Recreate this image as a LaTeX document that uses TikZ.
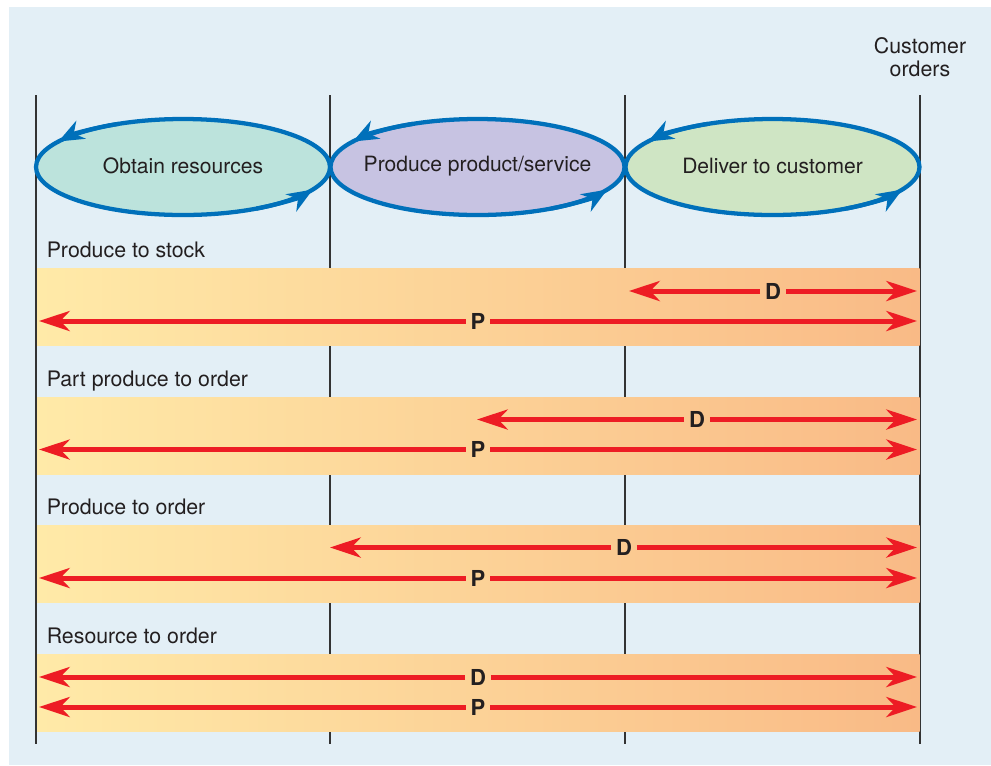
\documentclass[tikz,border=0pt]{standalone}
\usepackage{fontspec}
\setmainfont{TeX Gyre Heros}
\usetikzlibrary{arrows.meta,shapes.geometric}
\definecolor{panel}{RGB}{227,239,246}
\definecolor{bandL}{RGB}{255,234,168}
\definecolor{bandR}{RGB}{249,186,134}
\definecolor{ebl}{RGB}{0,112,186}
\definecolor{fobt}{RGB}{188,227,220}
\definecolor{fpro}{RGB}{199,195,226}
\definecolor{fdel}{RGB}{207,229,196}
\definecolor{rarr}{RGB}{237,28,36}
\definecolor{txt}{RGB}{35,31,32}
\begin{document}
\begin{tikzpicture}[x=0.75pt,y=-0.75pt,
  stage/.style={ellipse, draw=ebl, line width=3.2pt, minimum width=220.5pt, minimum height=72pt, inner sep=0pt},
  stagetext/.style={inner sep=0pt, text=txt, font=\fontsize{15.8}{19}\selectfont},
  cyc/.style={draw=ebl, line width=3.2pt, -{Stealth[length=19pt,width=15pt,inset=6pt]}},
  lab/.style={anchor=base west, inner sep=0pt, text=txt, font=\fontsize{16}{19}\selectfont},
  cust/.style={anchor=base, inner sep=0pt, text=txt, font=\fontsize{16}{19}\selectfont},
  dp/.style={inner sep=3.5pt, text=txt, font=\fontsize{16.5}{19}\selectfont\bfseries},
  flow/.style={draw=rarr, line width=3.75pt, -{Stealth[length=23pt,width=15pt,inset=7pt]}},
  vline/.style={draw=black!80, line width=1pt}]

\useasboundingbox (0,0) rectangle (991,765);
\fill[white] (0,0) rectangle (991,765);
\fill[panel] (9,7) rectangle (991,765);

% vertical guide lines
\foreach \i/\x in {1/36,2/330,3/625,4/920}{
  \coordinate (v\i t) at (\x,95);
  \coordinate (v\i b) at (\x,744);
  \draw[vline] (v\i t) -- (v\i b);
}

% customer orders
\node[cust] (cu1) at (920,53.3) {Customer};
\node[cust] (cu2) at (920,76) {orders};

% stage ellipses
\node[stage, fill=fobt] (obt) at (183,167) {};
\node[stage, fill=fpro] (pro) at (477.5,167) {};
\node[stage, fill=fdel] (del) at (772.5,167) {};
\node[stagetext] (obtt) at (183,166) {Obtain resources};
\node[stagetext] (prot) at (477.5,166) {Produce product/service};
\node[stagetext] (delt) at (772.5,166) {Deliver to customer};
\foreach \e in {obt,pro,del}{
  \draw[cyc] ([shift={(116:110.25pt and 36pt)}]\e.center) arc[start angle=116, end angle=148, x radius=110.25pt, y radius=36pt];
  \draw[cyc] ([shift={(-60:110.25pt and 36pt)}]\e.center) arc[start angle=-60, end angle=-28, x radius=110.25pt, y radius=36pt];
}

% bands
\foreach \t in {268,397,525,654}{
  \shade[left color=bandL, right color=bandR] (37,\t) rectangle (919.5,\t+77);
}

% band labels
\node[lab] (l1) at (46.5,257) {Produce to stock};
\node[lab] (l2) at (46.5,386) {Part produce to order};
\node[lab] (l3) at (46.5,514) {Produce to order};
\node[lab] (l4) at (46.5,643) {Resource to order};

% band 1
\node[dp] (d1) at (773,291) {D};
\coordinate (d1a) at (629,291); \coordinate (d1b) at (917,291);
\draw[flow] (d1) -- (d1a); \draw[flow] (d1) -- (d1b);
\node[dp] (p1) at (478,321) {P};
\coordinate (p1a) at (39,321); \coordinate (p1b) at (917,321);
\draw[flow] (p1) -- (p1a); \draw[flow] (p1) -- (p1b);

% band 2
\node[dp] (d2) at (697,419.5) {D};
\coordinate (d2a) at (477,419.5); \coordinate (d2b) at (917,419.5);
\draw[flow] (d2) -- (d2a); \draw[flow] (d2) -- (d2b);
\node[dp] (p2) at (478,449.5) {P};
\coordinate (p2a) at (39,449.5); \coordinate (p2b) at (917,449.5);
\draw[flow] (p2) -- (p2a); \draw[flow] (p2) -- (p2b);

% band 3
\node[dp] (d3) at (624,547.5) {D};
\coordinate (d3a) at (330,547.5); \coordinate (d3b) at (917,547.5);
\draw[flow] (d3) -- (d3a); \draw[flow] (d3) -- (d3b);
\node[dp] (p3) at (478,578) {P};
\coordinate (p3a) at (39,578); \coordinate (p3b) at (917,578);
\draw[flow] (p3) -- (p3a); \draw[flow] (p3) -- (p3b);

% band 4
\node[dp] (d4) at (478,677) {D};
\coordinate (d4a) at (39,677); \coordinate (d4b) at (917,677);
\draw[flow] (d4) -- (d4a); \draw[flow] (d4) -- (d4b);
\node[dp] (p4) at (478,707) {P};
\coordinate (p4a) at (39,707); \coordinate (p4b) at (917,707);
\draw[flow] (p4) -- (p4a); \draw[flow] (p4) -- (p4b);

\end{tikzpicture}
\end{document}
